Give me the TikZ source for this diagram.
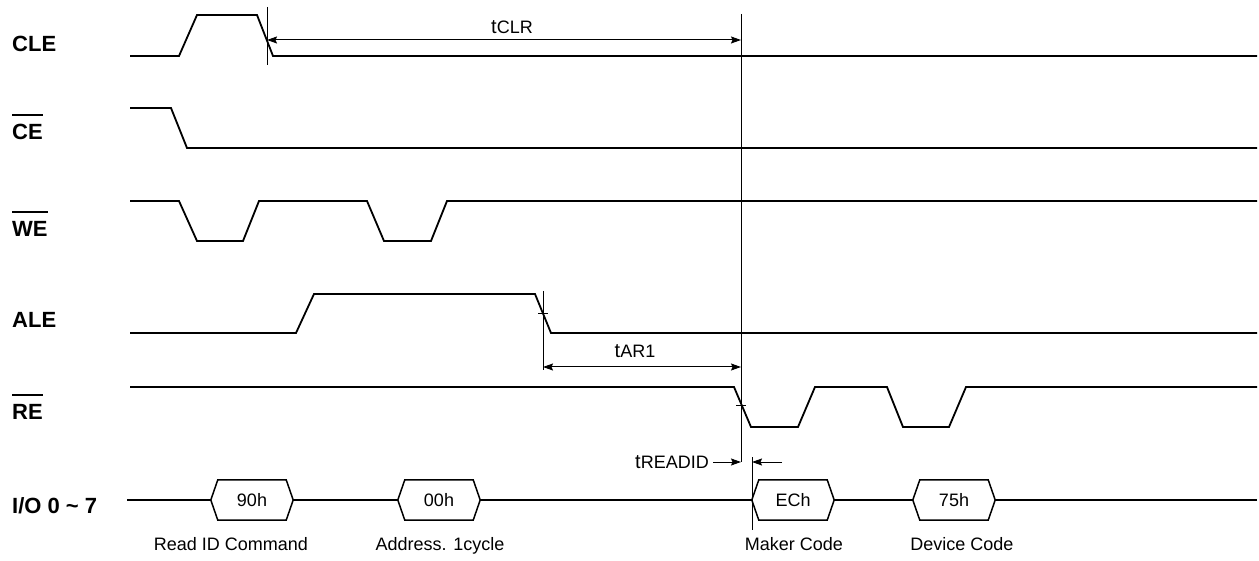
\documentclass[tikz,border=0pt]{standalone}
\usepackage{fontspec}
\setmainfont{Liberation Sans}
\usetikzlibrary{arrows.meta}
\newcommand\ovbar[1]{\vbox{\hrule height 2.5pt\kern 8.5pt\hbox{#1}}}
\newcommand\tsym[1]{{\fontsize{20}{20}\selectfont t}{\fontsize{18}{18}\selectfont #1}}
\begin{document}
\begin{tikzpicture}[x=1pt,y=-1pt,
  sig/.style={line width=1.8pt, line join=miter},
  guide/.style={line width=1pt},
  tipA/.tip={Stealth[length=10pt,width=7pt,inset=1.5pt]},
  dim/.style={guide, tipA-tipA},
  onedim/.style={guide, -tipA},
  hexline/.style={line width=1.5pt, line join=miter},
  lab/.style={font=\fontsize{22}{22}\selectfont\bfseries, anchor=base west, inner sep=0},
  txt/.style={font=\fontsize{18}{18}\selectfont, inner sep=0},
  hexbox/.style={txt, minimum width=68pt, minimum height=40pt}]
\useasboundingbox (0,0) rectangle (1259,561);

% signal names
\node[lab] (lcle) at (12,52) {CLE};
\node[lab] (lce)  at (12,140) {\ovbar{CE}};
\node[lab] (lwe)  at (12,237) {\ovbar{WE}};
\node[lab] (lale) at (12,328) {ALE};
\node[lab] (lre)  at (12,420) {\ovbar{RE}};
\node[lab] (lio)  at (12,513) {I/O 0 \textasciitilde{} 7};

% waveforms
\draw[sig] (130,56) -- (179,56) -- (197,15) -- (257,15) -- (273,56) -- (1257,56);
\draw[sig] (130,108) -- (171,108) -- (187,148) -- (1257,148);
\draw[sig] (130,201) -- (179,201) -- (197,241) -- (243,241) -- (259,201) -- (367,201)
  -- (384,241) -- (431,241) -- (447,201) -- (1257,201);
\draw[sig] (130,333) -- (296,333) -- (314,294) -- (535,294) -- (551,333) -- (1257,333);
\draw[sig] (130,387) -- (734,387) -- (751,427) -- (798,427) -- (815,387) -- (887,387)
  -- (903,427) -- (949,427) -- (966,387) -- (1257,387);

% I/O bus
\node[hexbox] (h90) at (252,500) {90h};
\node[hexbox] (h00) at (439,500) {00h};
\node[hexbox] (hEC) at (793,500) {ECh};
\node[hexbox] (h75) at (954,500) {75h};
\foreach \h in {h90,h00,hEC,h75}
  \draw[hexline] (\h.north west) -- (\h.north east) -- ([xshift=7pt]\h.east)
    -- (\h.south east) -- (\h.south west) -- ([xshift=-7pt]\h.west) -- cycle;
\coordinate (iostart) at (127,500);
\coordinate (ioend) at (1257,500);
\draw[sig] (iostart) -- ([xshift=-7pt]h90.west);
\draw[sig] ([xshift=7pt]h90.east) -- ([xshift=-7pt]h00.west);
\draw[sig] ([xshift=7pt]h00.east) -- ([xshift=-7pt]hEC.west);
\draw[sig] ([xshift=7pt]hEC.east) -- ([xshift=-7pt]h75.west);
\draw[sig] ([xshift=7pt]h75.east) -- (ioend);

\node[txt, anchor=base] (cmd)  at (231,550) {Read ID Command};
\node[txt, anchor=base] (addr) at (440,550) {Address. 1cycle};
\node[txt, anchor=base] (mkr)  at (794,550) {Maker Code};
\node[txt, anchor=base] (dev)  at (962,550) {Device Code};

% timing markers
\coordinate (mclrT) at (267,7);
\coordinate (mclrB) at (267,65);
\draw[guide] (mclrT) -- (mclrB);
\coordinate (vT) at (741,14);
\coordinate (vB) at (741,462);
\draw[guide] (vT) -- (vB);
\coordinate (clrA) at (267,40);
\coordinate (clrB) at (741,40);
\draw[dim] (clrA) -- (clrB);
\node[txt, anchor=base] (tclr) at (512,34) {\tsym{CLR}};

\coordinate (maleT) at (543,291);
\coordinate (maleB) at (543,370);
\draw[guide] (maleT) -- (maleB);
\coordinate (tkAL) at (538,314);
\coordinate (tkAR) at (548,314);
\draw[guide] (tkAL) -- (tkAR);
\coordinate (arA) at (543,367);
\coordinate (arB) at (741,367);
\draw[dim] (arA) -- (arB);
\node[txt, anchor=base] (tar) at (635,358) {\tsym{AR1}};

\coordinate (tkRL) at (736,405);
\coordinate (tkRR) at (746,405);
\draw[guide] (tkRL) -- (tkRR);

\node[txt, anchor=base east] (trd) at (709,468) {\tsym{READID}};
\coordinate (rdA) at (713,462);
\coordinate (rdB) at (741,462);
\draw[onedim] (rdA) -- (rdB);
\coordinate (rdC) at (782,462);
\coordinate (rdD) at (752,462);
\draw[onedim] (rdC) -- (rdD);
\coordinate (m2T) at (752,457);
\coordinate (m2B) at (752,530);
\draw[guide] (m2T) -- (m2B);
\end{tikzpicture}
\end{document}
